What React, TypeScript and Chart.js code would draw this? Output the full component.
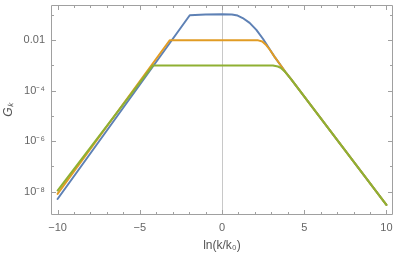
import React, { useEffect, useRef } from "react";
import { Chart, registerables } from "chart.js";

Chart.register(...registerables);

// ---- data ----
const blueX = [-10, -1.96, -1.0, 0, 0.6, 0.95, 1.26, 1.68, 2.09, 2.5, 2.9, 3.2, 3.6, 3.85, 4.2, 10];
const blueG = [5.1e-9, 0.098, 0.104, 0.107, 0.105, 0.095, 0.076, 0.049, 0.0257, 0.0112, 0.0044, 0.0022, 0.00095, 0.00056, 0.00029, 2.95e-9];

const orangeX = [-10, -3.18, 2.2, 2.45, 2.7, 2.9, 3.2, 3.6, 3.85, 4.2, 10];
const orangeG = [8.1e-9, 0.01, 0.0099, 0.0089, 0.0063, 0.0043, 0.0022, 0.00095, 0.00056, 0.00029, 2.95e-9];

const greenX = [-10, -4.2, 3.1, 3.4, 3.6, 3.85, 4.2, 10];
const greenG = [1.1e-8, 0.001, 0.001, 0.00091, 0.00078, 0.00055, 0.00029, 2.95e-9];

const xMajorTicks = [-10, -5, 0, 5, 10];
const xMinorTicks = [-9, -8, -7, -6, -4, -3, -2, -1, 1, 2, 3, 4, 6, 7, 8, 9];
const yMajorTicks = [1e-8, 1e-6, 1e-4, 1e-2];
const yTickLabels = ["10\u207B\u2078", "10\u207B\u2076", "10\u207B\u2074", "0.01"];
const yMinorTicks = [1e-7, 1e-5, 1e-3, 1e-1];

const X_MIN = -10.4;
const X_MAX = 10.4;
const Y_MIN = 1.18e-9;
const Y_MAX = 0.25;

const FRAME = "#a0a0a0";
const LABEL = "#666666";

const toPoints = (xs: number[], ys: number[]) => xs.map((x, i) => ({ x, y: ys[i] }));

const framePlugin = {
  id: "mmaFrame",
  afterDatasetsDraw(chart: any) {
    const { ctx, chartArea: a, scales } = chart;
    const xs = scales.x;
    const ys = scales.y;
    const L = Math.round(a.left) + 0.5;
    const R = Math.round(a.right) - 0.5;
    const T = Math.round(a.top) + 0.5;
    const B = Math.round(a.bottom) - 0.5;
    ctx.save();
    ctx.strokeStyle = FRAME;
    ctx.lineWidth = 1;
    ctx.beginPath();
    ctx.rect(L, T, R - L, B - T);
    ctx.stroke();
    const seg = (x1: number, y1: number, x2: number, y2: number) => {
      ctx.beginPath();
      ctx.moveTo(x1, y1);
      ctx.lineTo(x2, y2);
      ctx.stroke();
    };
    const xt = (v: number, len: number) => {
      const p = Math.round(xs.getPixelForValue(v)) + 0.5;
      seg(p, B, p, B - len);
      seg(p, T, p, T + len);
    };
    const yt = (v: number, len: number) => {
      const p = Math.round(ys.getPixelForValue(v)) + 0.5;
      seg(L, p, L + len, p);
      seg(R, p, R - len, p);
    };
    xMajorTicks.forEach((v) => xt(v, 4.5));
    xMinorTicks.forEach((v) => xt(v, 2.5));
    yMajorTicks.forEach((v) => yt(v, 4.5));
    yMinorTicks.forEach((v) => yt(v, 2.5));
    ctx.restore();
  },
};

export default function App() {
  const ref = useRef<HTMLCanvasElement | null>(null);

  useEffect(() => {
    if (!ref.current) return;
    const lineDs = (label: string, xs: number[], ys: number[], color: string, order: number) => ({
      label,
      data: toPoints(xs, ys),
      borderColor: color,
      backgroundColor: color,
      borderWidth: 2,
      pointRadius: 0,
      tension: 0,
      order,
      borderJoinStyle: "round" as const,
      borderCapStyle: "round" as const,
    });
    const chart = new Chart(ref.current, {
      type: "line",
      data: {
        datasets: [
          lineDs("blue", blueX, blueG, "#5E81B5", 2),
          lineDs("orange", orangeX, orangeG, "#E19C24", 1),
          lineDs("green", greenX, greenG, "#8FB032", 0),
        ],
      },
      plugins: [framePlugin],
      options: {
        responsive: false,
        animation: false,
        events: [],
        layout: { padding: { left: 0, right: 6, top: 5, bottom: 0 } },
        plugins: { legend: { display: false }, tooltip: { enabled: false } },
        scales: {
          x: {
            type: "linear",
            min: X_MIN,
            max: X_MAX,
            afterBuildTicks: (s: any) => {
              s.ticks = xMajorTicks.map((v) => ({ value: v }));
            },
            afterFit: (s: any) => {
              s.height = 43;
              s.paddingLeft = 0;
              s.paddingRight = 0;
            },
            grid: {
              drawTicks: false,
              color: (c: any) => (c.tick && c.tick.value === 0 ? "#c8c8c8" : "rgba(0,0,0,0)"),
              lineWidth: 1,
            },
            border: { display: false },
            ticks: {
              padding: 6,
              color: LABEL,
              font: { family: "Liberation Sans", size: 11 },
              maxRotation: 0,
              callback: (v: any) => (Number(v) < 0 ? "\u2212" + Math.abs(Number(v)) : String(v)),
            },
            title: {
              display: true,
              text: "ln(k/k\u2080)",
              color: "#555555",
              font: { family: "Liberation Sans", size: 12 },
              padding: { top: 0, bottom: 5 },
            },
          },
          y: {
            type: "logarithmic",
            min: Y_MIN,
            max: Y_MAX,
            afterBuildTicks: (s: any) => {
              s.ticks = yMajorTicks.map((v) => ({ value: v }));
            },
            afterFit: (s: any) => {
              s.width = 51;
              s.paddingTop = 0;
              s.paddingBottom = 0;
            },
            grid: { display: false, drawTicks: false },
            border: { display: false },
            ticks: {
              padding: 6,
              color: LABEL,
              font: { family: "Liberation Sans", size: 11 },
              callback: (v: any) => {
                const i = yMajorTicks.findIndex((t) => Math.abs(Math.log10(t) - Math.log10(Number(v))) < 1e-6);
                return i >= 0 ? yTickLabels[i] : "";
              },
            },
            title: {
              display: true,
              text: "G\u2096",
              color: "#555555",
              font: { family: "Liberation Sans", size: 12, style: "italic" },
              padding: { top: 1, bottom: 0 },
            },
          },
        },
      },
    });
    return () => chart.destroy();
  }, []);

  return (
    <div style={{ position: "fixed", left: 0, top: 0, width: 399, height: 258, background: "#fff" }}>
      <canvas ref={ref} width={399} height={258} style={{ display: "block" }} />
    </div>
  );
}
